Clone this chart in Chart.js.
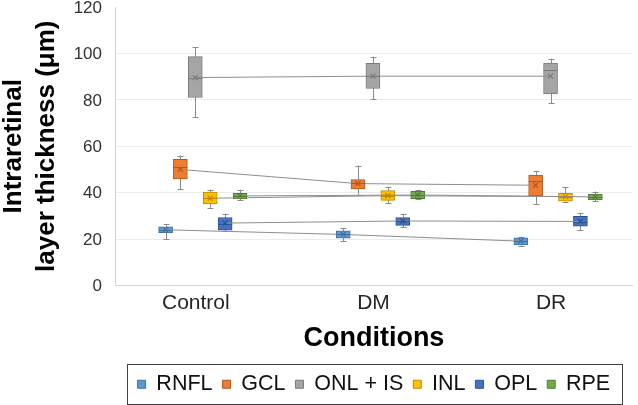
<!DOCTYPE html>
<html>
<head>
<meta charset="utf-8">
<script src="https://cdn.jsdelivr.net/npm/chart.js@4"></script>
<style>
  html, body { margin: 0; padding: 0; background: #fff; }
  #wrap { width: 638px; height: 405px; position: relative; }
</style>
</head>
<body>
<div id="wrap"><canvas id="chart"></canvas></div>
<script>
// Categories and series
const conditions = ['Control', 'DM', 'DR'];
const layers = ['RNFL', 'GCL', 'ONL + IS', 'INL', 'OPL', 'RPE'];
const yTicks = [0, 20, 40, 60, 80, 100, 120];

// Box stats per condition: [min, q1, median, q3, max]
const rnflBox = [[19.9, 22.8, 24.0, 25.3, 26.5], [19.2, 20.4, 22.0, 23.6, 24.8], [17.2, 17.5, 19.0, 20.5, 21.1]];
const gclBox  = [[41.6, 45.9, 50.9, 54.4, 56.0], [39.2, 41.6, 44.0, 45.6, 51.7], [35.2, 38.6, 44.9, 47.6, 49.4]];
const onlBox  = [[72.4, 81.0, 89.6, 98.6, 102.6], [80.2, 84.9, 90.4, 95.7, 98.6], [78.6, 82.6, 93.0, 95.8, 97.7]];
const inlBox  = [[33.5, 35.2, 37.5, 40.2, 41.3], [35.5, 36.7, 38.5, 40.9, 42.4], [36.1, 36.3, 38.1, 39.7, 42.4]];
const oplBox  = [[23.3, 23.8, 26.6, 29.3, 30.9], [25.2, 25.9, 27.6, 29.3, 30.9], [23.8, 25.6, 27.4, 29.8, 31.3]];
const rpeBox  = [[36.7, 37.4, 38.5, 39.7, 41.3], [37.2, 37.4, 38.9, 40.6, 41.3], [36.4, 36.9, 38.1, 39.4, 40.5]];

// Means per condition
const rnflMean = [24.0, 22.0, 19.1];
const gclMean  = [50.0, 43.9, 43.2];
const onlMean  = [89.6, 90.2, 90.2];
const inlMean  = [37.6, 38.7, 38.3];
const oplMean  = [26.9, 27.8, 27.6];
const rpeMean  = [38.6, 39.0, 38.2];

const allBoxes = [rnflBox, gclBox, onlBox, inlBox, oplBox, rpeBox];
const allMeans = [rnflMean, gclMean, onlMean, inlMean, oplMean, rpeMean];

// Styling
const fills   = ['#5b9bd5', '#ed7d31', '#a5a5a5', '#ffc000', '#4472c4', '#70ad47'];
const borders = ['#41719c', '#ae5a21', '#7b7b7b', '#bc8c00', '#2f528f', '#507e32'];
const offsets = [-0.17, -0.087, -0.003, 0.081, 0.165, 0.249]; // position of each box inside its group

const boxSets = allBoxes.map((box, k) => ({
    type: 'bar',
    label: layers[k],
    data: box.map((b, i) => ({ x: i + offsets[k], y: [b[1], b[3]] })),
    stats: box,
    backgroundColor: fills[k],
    borderColor: borders[k],
    borderWidth: 1,
    borderSkipped: false,
    barThickness: 14,
    grouped: false,
    order: 1
}));

const meanSets = allMeans.map((m, k) => ({
    type: 'line',
    label: layers[k] + ' mean',
    data: m.map((v, i) => ({ x: i + offsets[k], y: v })),
    borderColor: '#8e8e8e',
    borderWidth: 1,
    pointStyle: 'crossRot',
    pointRadius: 3.5,
    pointBorderColor: borders[k],
    pointBorderWidth: 1.2,
    pointBackgroundColor: 'rgba(0,0,0,0)',
    order: 0
}));

// Whiskers under the boxes, medians on top
const boxPlotPlugin = {
    id: 'boxPlot',
    beforeDatasetsDraw(chart) {
        const { ctx, scales: { x, y } } = chart;
        ctx.save();
        ctx.strokeStyle = '#8a8a8a';
        ctx.lineWidth = 1;
        chart.data.datasets.forEach((ds, k) => {
            if (!ds.stats) return;
            ds.stats.forEach((b, i) => {
                const px = Math.round(x.getPixelForValue(i + offsets[k])) + 0.5;
                const yMin = y.getPixelForValue(b[0]);
                const yMax = y.getPixelForValue(b[4]);
                ctx.beginPath();
                ctx.moveTo(px, yMin); ctx.lineTo(px, yMax);
                ctx.moveTo(px - 3, Math.round(yMin) + 0.5); ctx.lineTo(px + 3, Math.round(yMin) + 0.5);
                ctx.moveTo(px - 3, Math.round(yMax) + 0.5); ctx.lineTo(px + 3, Math.round(yMax) + 0.5);
                ctx.stroke();
            });
        });
        ctx.restore();
    },
    afterDatasetsDraw(chart) {
        const { ctx, scales: { x, y } } = chart;
        ctx.save();
        ctx.lineWidth = 1;
        chart.data.datasets.forEach((ds, k) => {
            if (!ds.stats) return;
            ctx.strokeStyle = borders[k];
            ds.stats.forEach((b, i) => {
                const px = x.getPixelForValue(i + offsets[k]);
                const py = Math.round(y.getPixelForValue(b[2])) + 0.5;
                ctx.beginPath();
                ctx.moveTo(px - 7, py); ctx.lineTo(px + 7, py);
                ctx.stroke();
            });
        });
        ctx.restore();
    }
};

// Frame round the legend
const legendFramePlugin = {
    id: 'legendFrame',
    afterDraw(chart) {
        const lg = chart.legend;
        if (!lg || !lg.legendHitBoxes.length) return;
        const hb = lg.legendHitBoxes;
        const last = hb[hb.length - 1];
        const left = Math.round(hb[0].left - 11) + 0.5;
        const right = Math.round(last.left + last.width + 12) + 0.5;
        const top = Math.round(lg.top) + 0.5;
        const bottom = Math.round(lg.bottom) - 0.5;
        const ctx = chart.ctx;
        ctx.save();
        ctx.strokeStyle = '#404040';
        ctx.lineWidth = 1;
        ctx.strokeRect(left, top, right - left, bottom - top);
        ctx.restore();
    }
};

new Chart(document.getElementById('chart'), {
    data: { datasets: [...boxSets, ...meanSets] },
    options: {
        responsive: true,
        maintainAspectRatio: false,
        animation: false,
        devicePixelRatio: 1,
        layout: { padding: { left: 0, right: 0, top: 7, bottom: 0 } },
        scales: {
            x: {
                type: 'linear',
                offset: false,
                min: -0.455,
                max: 2.46,
                afterBuildTicks: s => { s.ticks = conditions.map((c, i) => ({ value: i })); },
                afterFit: s => { s.height = 78; s.paddingLeft = 0; s.paddingRight = 0; },
                ticks: {
                    callback: v => conditions[v],
                    font: { family: 'Liberation Sans, Arial', size: 21 },
                    color: '#262626',
                    padding: 5,
                    maxRotation: 0
                },
                grid: { display: true, color: 'rgba(0,0,0,0)', drawTicks: false },
                border: { color: '#d4d4d4', width: 1 },
                title: {
                    display: true,
                    text: 'Conditions',
                    font: { family: 'Liberation Sans, Arial', size: 27, weight: 'bold' },
                    color: '#000',
                    padding: { top: 0, bottom: 9 }
                }
            },
            y: {
                min: 0,
                max: 120,
                afterBuildTicks: s => { s.ticks = yTicks.map(v => ({ value: v })); },
                afterFit: s => { s.width = 115; s.paddingTop = 0; s.paddingBottom = 0; },
                ticks: {
                    font: { family: 'Liberation Sans, Arial', size: 17 },
                    color: '#333',
                    padding: 13,
                    labelOffset: 1
                },
                grid: {
                    color: c => (c.tick && c.tick.value === 120) ? 'rgba(0,0,0,0)' : '#ececec',
                    drawTicks: false
                },
                border: { color: '#d4d4d4', width: 1 },
                title: {
                    display: true,
                    text: ['Intraretinal', 'layer thickness (μm)'],
                    font: { family: 'Liberation Sans, Arial', size: 26, weight: 'bold', lineHeight: 1.27 },
                    color: '#000',
                    padding: { top: -3, bottom: 11 }
                }
            }
        },
        plugins: {
            legend: {
                position: 'bottom',
                fullSize: false,
                align: 'center',
                labels: {
                    filter: item => item.datasetIndex < layers.length,
                    font: { family: 'Liberation Sans, Arial', size: 21.5 },
                    color: '#111',
                    boxWidth: 8,
                    boxHeight: 8,
                    padding: 10
                }
            },
            tooltip: { enabled: false }
        }
    },
    plugins: [boxPlotPlugin, legendFramePlugin]
});
</script>
</body>
</html>
